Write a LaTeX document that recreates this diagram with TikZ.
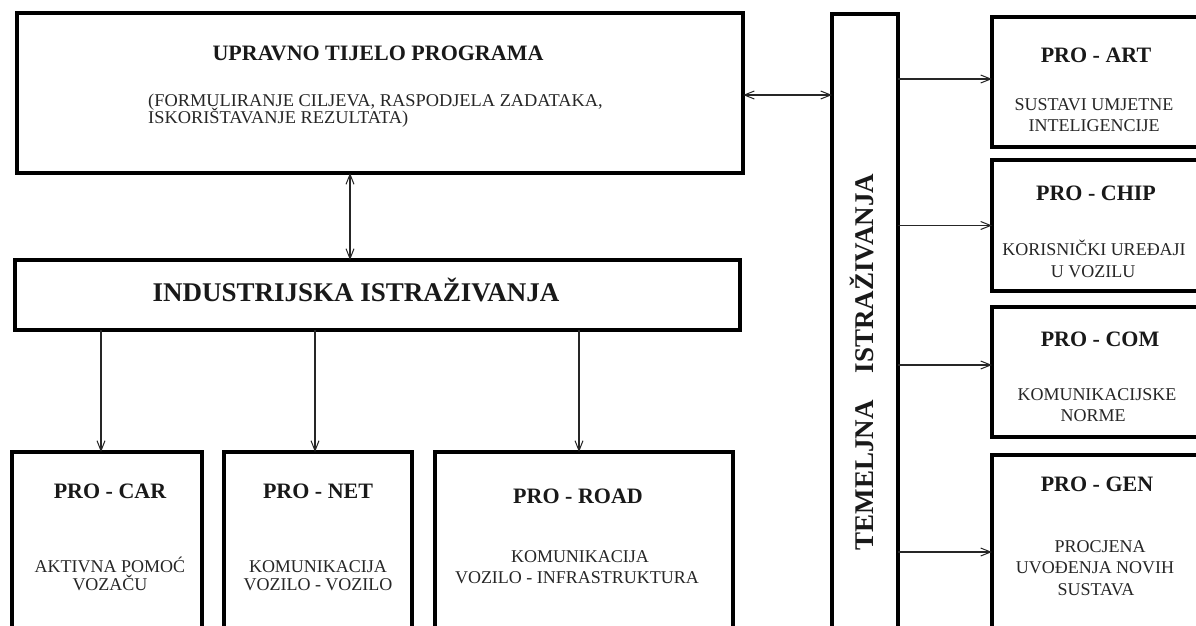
\documentclass[tikz,border=0pt]{standalone}
\usepackage{fontspec}
\setmainfont{Liberation Serif}
\usetikzlibrary{arrows.meta}
\tikzset{
  box/.style={draw=black, line width=4pt, anchor=north west, inner sep=0pt, outer sep=0pt},
  conn/.style={draw=black!85, line width=1.2pt},
  tipb/.tip={Straight Barb[length=10pt,width=8pt,line width=1pt]},
  arr/.style={conn, -tipb},
  biarr/.style={conn, tipb-tipb},
  ttl/.style={font=\bfseries\fontsize{22}{22}\selectfont, inner sep=0pt, anchor=base, text=black!90},
  big/.style={font=\bfseries\fontsize{27}{27}\selectfont, inner sep=0pt, anchor=base, text=black!90},
  sub/.style={font=\fontsize{18}{18}\selectfont, inner sep=0pt, anchor=base, text=black!85},
}
\begin{document}
\begin{tikzpicture}[x=1pt,y=-1pt]
\useasboundingbox (0,0) rectangle (1196,626);
\clip (0,0) rectangle (1196,626);
\fill[white] (0,0) rectangle (1196,626);
% boxes
\node[box, minimum width=726pt, minimum height=160pt] (top) at (17,13) {};
\node[box, minimum width=725pt, minimum height=70pt] (ind) at (15,260) {};
\node[box, minimum width=190pt, minimum height=190pt] (car) at (12,452) {};
\node[box, minimum width=188pt, minimum height=190pt] (net) at (224,452) {};
\node[box, minimum width=298pt, minimum height=190pt] (road) at (435,452) {};
\node[box, minimum width=66pt, minimum height=630pt] (tem) at (832,14) {};
\node[box, minimum width=215pt, minimum height=130pt] (art) at (992,17) {};
\node[box, minimum width=215pt, minimum height=131pt] (chip) at (992,160) {};
\node[box, minimum width=215pt, minimum height=130pt] (com) at (992,307) {};
\node[box, minimum width=215pt, minimum height=190pt] (gen) at (992,455) {};
% texts
\node[ttl] (topt) at (378,60) {UPRAVNO TIJELO PROGRAMA};
\node[sub, anchor=base west, xscale=1.02] (tops1) at (148,106) {(FORMULIRANJE CILJEVA, RASPODJELA ZADATAKA,};
\node[sub, anchor=base west, xscale=1.02] (tops2) at (148,123) {ISKORIŠTAVANJE REZULTATA)};
\node[big] (indt) at (356,301) {INDUSTRIJSKA ISTRAŽIVANJA};
\node[big, rotate=90] (temt) at (873,362) {TEMELJNA\hspace{1em}ISTRAŽIVANJA};
% bottom
\node[ttl] (cart) at (110,498) {PRO - CAR};
\node[sub] (cars1) at (110,572) {AKTIVNA POMOĆ};
\node[sub] (cars2) at (110,590) {VOZAČU};
\node[ttl] (nett) at (318,498) {PRO - NET};
\node[sub] (nets1) at (318,572) {KOMUNIKACIJA};
\node[sub] (nets2) at (318,590) {VOZILO - VOZILO};
\node[ttl] (roadt) at (578,503) {PRO - ROAD};
\node[sub] (roads1) at (580,562) {KOMUNIKACIJA};
\node[sub] (roads2) at (577,583) {VOZILO - INFRASTRUKTURA};
% right
\node[ttl] (artt) at (1096,63) {PRO - ART};
\node[sub] (arts1) at (1094,110) {SUSTAVI UMJETNE};
\node[sub] (arts2) at (1094,131) {INTELIGENCIJE};
\node[ttl] (chipt) at (1096,200) {PRO - CHIP};
\node[sub] (chips1) at (1094,255) {KORISNIČKI UREĐAJI};
\node[sub] (chips2) at (1093,277) {U VOZILU};
\node[ttl] (comt) at (1100,346) {PRO - COM};
\node[sub] (coms1) at (1097,400) {KOMUNIKACIJSKE};
\node[sub] (coms2) at (1093,421) {NORME};
\node[ttl] (gent) at (1097,491) {PRO - GEN};
\node[sub] (gens1) at (1100,552) {PROCJENA};
\node[sub] (gens2) at (1095,573) {UVOĐENJA NOVIH};
\node[sub] (gens3) at (1096,595) {SUSTAVA};
% connectors
\draw[biarr] ([xshift=-30pt]top.south) -- ([xshift=-30pt]top.south |- ind.north);
\draw[biarr] ([yshift=-2pt]top.east) -- ([yshift=-2pt]top.east -| tem.west);
\draw[arr] ([xshift=-6pt]car.north |- ind.south) -- ([xshift=-6pt]car.north);
\draw[arr] ([xshift=-3pt]net.north |- ind.south) -- ([xshift=-3pt]net.north);
\draw[arr] ([xshift=-5pt]road.north |- ind.south) -- ([xshift=-5pt]road.north);
\draw[arr] ([yshift=3pt]art.west -| tem.east) -- ([yshift=3pt]art.west);
\draw[arr] (chip.west -| tem.east) -- (chip.west);
\draw[arr] ([yshift=7pt]com.west -| tem.east) -- ([yshift=7pt]com.west);
\draw[arr] ([yshift=-2pt]gen.west -| tem.east) -- ([yshift=-2pt]gen.west);
\end{tikzpicture}
\end{document}
